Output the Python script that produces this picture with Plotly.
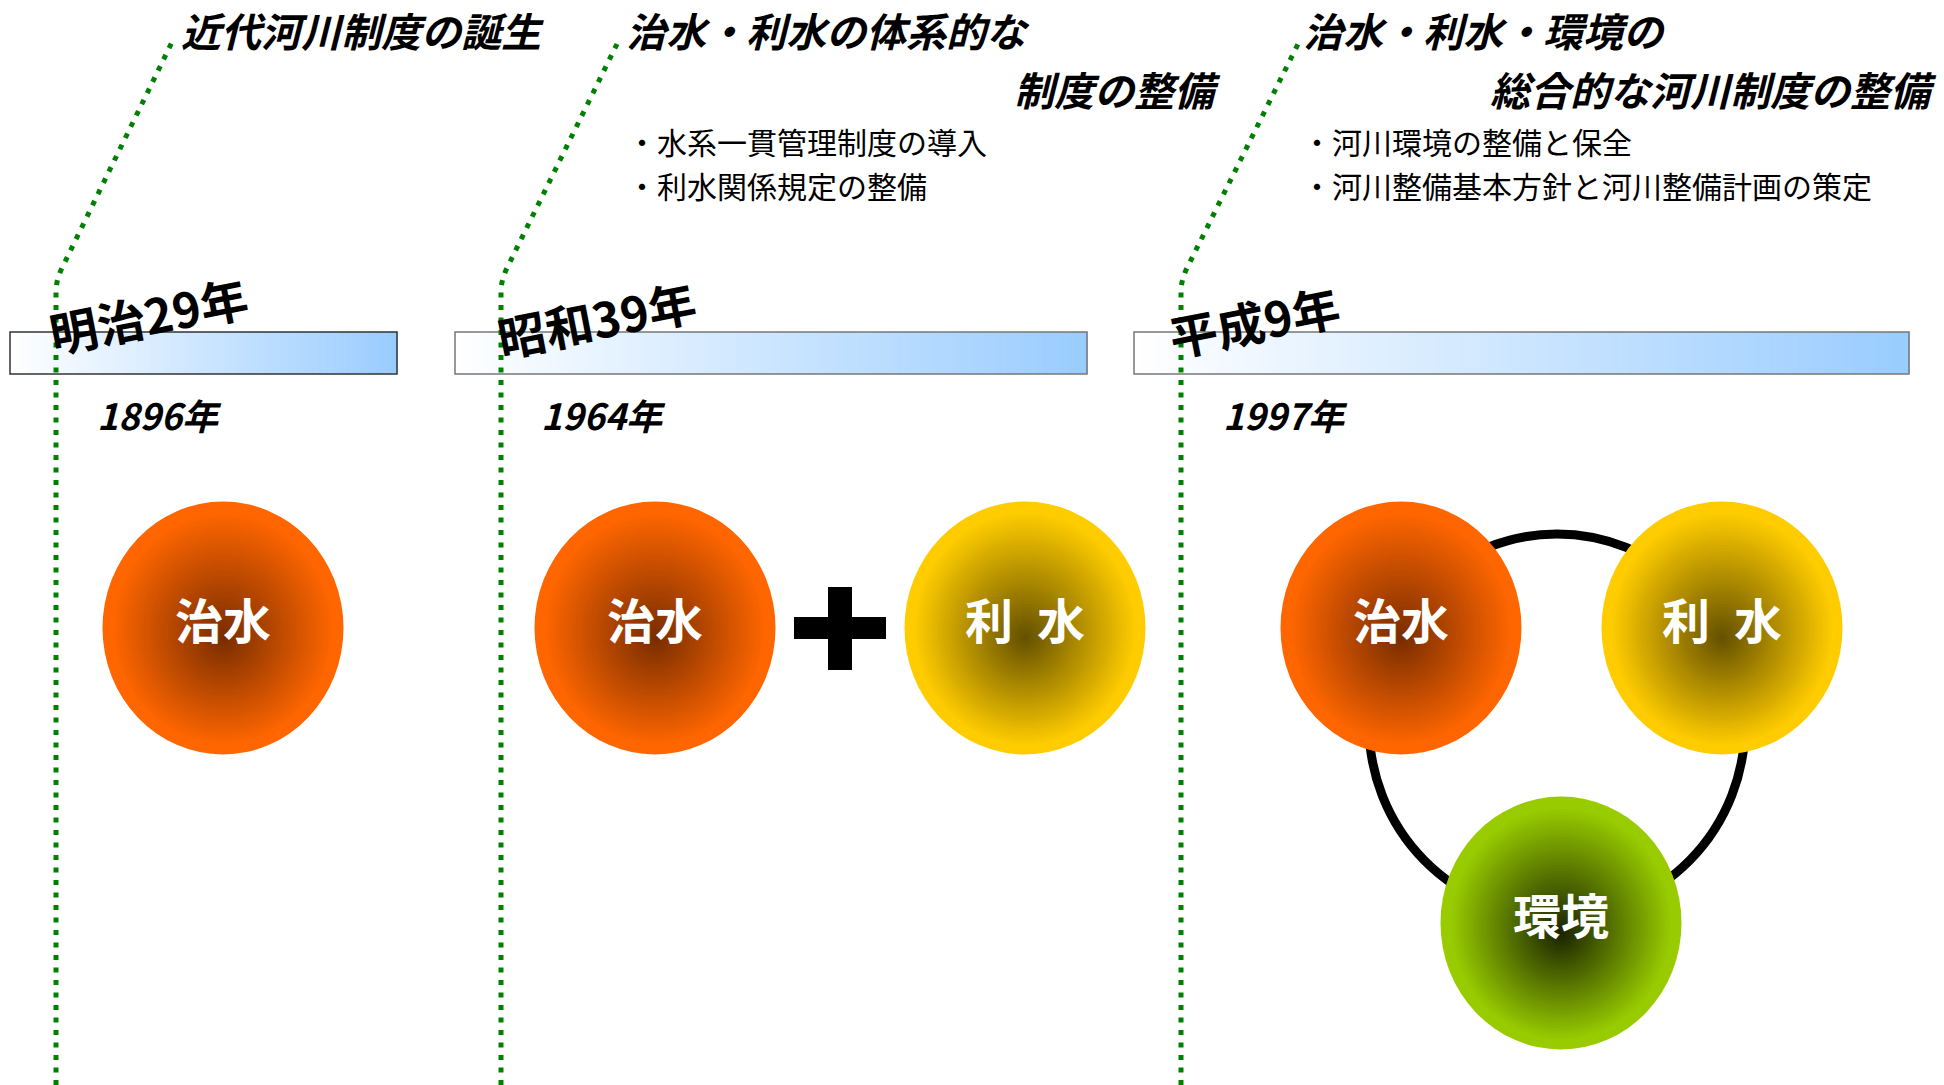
import plotly.graph_objects as go

# ---------------- data (text content of the diagram) ----------------
eras = ["明治29年", "昭和39年", "平成9年"]
years = ["1896年", "1964年", "1997年"]
title_line1 = ["近代河川制度の誕生", "治水・利水の体系的な", "治水・利水・環境の"]
title_line2 = ["", "制度の整備", "総合的な河川制度の整備"]
bullets = [
    [],
    ["水系一貫管理制度の導入", "利水関係規定の整備"],
    ["河川環境の整備と保全", "河川整備基本方針と河川整備計画の策定"],
]
circle_labels = [["治水"], ["治水", "利\u2002水"], ["治水", "利\u2002水", "環境"]]
circle_kinds = [["flood"], ["flood", "use"], ["flood", "use", "env"]]

# ---------------- layout / styles (positions in page pixels) ----------------
W, H = 1944, 1085
FONT = "Noto Sans CJK JP"
edge_col = {"flood": (255, 102, 0), "use": (255, 204, 0), "env": (153, 204, 0)}
core_col = {"flood": (120, 45, 0), "use": (100, 80, 0), "env": (25, 35, 0)}

bar_x = [(10, 397), (455, 1087), (1134, 1909)]
bar_y = (332, 374)
bar_border = ["#333333", "#777777", "#777777"]
line_x = [56, 501, 1181]
line_top = [(173, 40), (619, 40), (1300, 40)]
era_pos = [(148, 314), (596, 318), (1254, 320)]
year_pos = [(95, 414), (539, 414), (1221, 414)]
TITLE_SIZE = 40
t1_pos = [(180, 29.5), (625, 29.5), (1302, 29.5)]
t2_pos = [None, (1222, 88.5), (1938, 88.5)]
BULLET_SIZE = 30
bullet_x = [None, 626, 1301]
bullet_y = [140.5, 184.5]
circle_pos = [
    [(223, 628)],
    [(655, 628), (1025, 628)],
    [(1401, 628), (1722, 628), (1561, 923)],
]
RX, RY = 120.5, 126.5
ring = dict(cx=1557, cy=725, rx=188, ry=191)


def mix(c0, c1, t):
    return "rgb(%d,%d,%d)" % tuple(round(a + (b - a) * t) for a, b in zip(c0, c1))


shapes = []

# gradient bars
NB = 110
for (x0, x1), bc in zip(bar_x, bar_border):
    w = (x1 - x0) / NB
    for i in range(NB):
        shapes.append(dict(type="rect", xref="x", yref="y",
                           x0=x0 + i * w, x1=x0 + (i + 1) * w + 0.6,
                           y0=bar_y[0], y1=bar_y[1],
                           fillcolor=mix((255, 255, 255), (153, 204, 255), (i + 0.5) / NB),
                           line=dict(width=0), layer="above"))
    shapes.append(dict(type="rect", xref="x", yref="y", x0=x0, x1=x1,
                       y0=bar_y[0], y1=bar_y[1], fillcolor="rgba(0,0,0,0)",
                       line=dict(color=bc, width=1.5), layer="above"))

# dotted green guide lines
for lx, (tx, ty) in zip(line_x, line_top):
    path = (f"M {lx} {H} L {lx} 292 Q {lx} 280 {lx + 6} 268 L {tx} {ty}")
    shapes.append(dict(type="path", xref="x", yref="y", path=path,
                       line=dict(color="#008000", width=5, dash="5px,7.5px"),
                       layer="above"))

# ring connecting the three circles of the last era
shapes.append(dict(type="circle", xref="x", yref="y",
                   x0=ring["cx"] - ring["rx"], x1=ring["cx"] + ring["rx"],
                   y0=ring["cy"] - ring["ry"], y1=ring["cy"] + ring["ry"],
                   line=dict(color="black", width=9), layer="above"))

# radial-gradient circles
NC = 44
annotations = []
for kinds, labels, poss in zip(circle_kinds, circle_labels, circle_pos):
    for kind, lab, (cx, cy) in zip(kinds, labels, poss):
        for k in range(NC):
            s = 1 - k / NC
            t = min(1.0, (s - 0.5 / NC) / 0.92)
            ccx, ccy = cx, cy + 10 * (1 - s)
            shapes.append(dict(type="circle", xref="x", yref="y",
                               x0=ccx - RX * s, x1=ccx + RX * s,
                               y0=ccy - RY * s, y1=ccy + RY * s,
                               fillcolor=mix(core_col[kind], edge_col[kind], t),
                               line=dict(width=0), layer="above"))
        annotations.append(dict(x=cx, y=cy - 10, xref="x", yref="y", text=f"<b>{lab}</b>",
                                showarrow=False, xanchor="center", yanchor="middle",
                                font=dict(family=FONT, size=48, color="white")))

# plus sign
shapes.append(dict(type="rect", xref="x", yref="y", x0=794, x1=886, y0=617, y1=639,
                   fillcolor="black", line=dict(width=0), layer="above"))
shapes.append(dict(type="rect", xref="x", yref="y", x0=828, x1=852, y0=587, y1=670,
                   fillcolor="black", line=dict(width=0), layer="above"))

# text
for i in range(3):
    ex, ey = era_pos[i]
    annotations.append(dict(x=ex, y=ey, xref="x", yref="y", text=f"<b>{eras[i]}</b>",
                            showarrow=False, xanchor="center", yanchor="middle", textangle=-11,
                            font=dict(family=FONT, size=48, color="black")))
    yx, yy = year_pos[i]
    annotations.append(dict(x=yx, y=yy, xref="x", yref="y", text=f"<b><i>{years[i]}</i></b>",
                            showarrow=False, xanchor="left", yanchor="middle",
                            font=dict(family=FONT, size=36, color="black")))
    tx, ty = t1_pos[i]
    annotations.append(dict(x=tx, y=ty, xref="x", yref="y", text=f"<b><i>{title_line1[i]}</i></b>",
                            showarrow=False, xanchor="left", yanchor="middle", borderpad=0,
                            font=dict(family=FONT, size=TITLE_SIZE, color="black")))
    if title_line2[i]:
        tx, ty = t2_pos[i]
        annotations.append(dict(x=tx, y=ty, xref="x", yref="y", text=f"<b><i>{title_line2[i]}</i></b>",
                                showarrow=False, xanchor="right", yanchor="middle", borderpad=0,
                                font=dict(family=FONT, size=TITLE_SIZE, color="black")))
    for j, b in enumerate(bullets[i]):
        annotations.append(dict(x=bullet_x[i], y=bullet_y[j], xref="x", yref="y", text="・" + b,
                                showarrow=False, xanchor="left", yanchor="middle", borderpad=0,
                                font=dict(family=FONT, size=BULLET_SIZE, color="black")))

fig = go.Figure()
fig.update_layout(
    width=W, height=H, autosize=False,
    margin=dict(l=0, r=0, t=0, b=0),
    paper_bgcolor="white", plot_bgcolor="white",
    xaxis=dict(range=[0, W], visible=False, fixedrange=True),
    yaxis=dict(range=[H, 0], visible=False, fixedrange=True),
    shapes=shapes, annotations=annotations, showlegend=False,
)
fig.write_html("out.html", config={"displayModeBar": False},
               post_script="document.body.style.margin='0';document.body.style.overflow='hidden';")
